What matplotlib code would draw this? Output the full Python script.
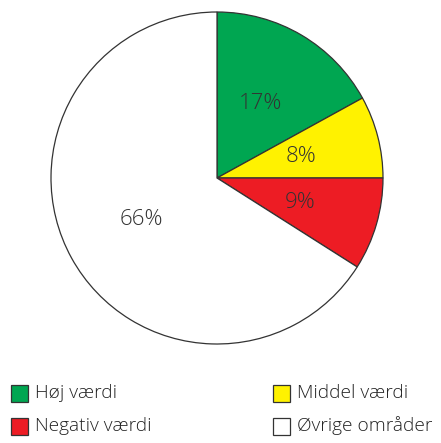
import matplotlib

matplotlib.use("Agg")
import matplotlib.pyplot as plt
from matplotlib.patches import Rectangle

labels = ["Høj værdi", "Middel værdi", "Negativ værdi", "Øvrige områder"]
shares = [17, 8, 9, 66]
colors = ["#00A651", "#FFF200", "#ED1C24", "#FFFFFF"]
legend_order = [0, 2, 1, 3]  # column-major: left column then right column

W, H = 441, 443
plt.rcParams["font.family"] = ["Open Sans", "DejaVu Sans"]

fig = plt.figure(figsize=(W / 100, H / 100), dpi=100)
ax = fig.add_axes([0, 0, 1, 1])

wedges, texts, pcts = ax.pie(
    shares,
    colors=colors,
    startangle=90,
    counterclock=False,
    center=(217, H - 178),
    radius=166,
    autopct="%d%%",
    pctdistance=0.52,
    wedgeprops=dict(edgecolor="#333333", linewidth=0.9),
    textprops=dict(fontsize=16, color="#333333", fontweight="light"),
    frame=True,
)
ax.set_xlim(0, W)
ax.set_ylim(0, H)
ax.set_aspect("equal")
ax.axis("off")

# manual legend, two columns
col_x = [11, 273]
row_y = [H - 393, H - 426]
sq = 17
for i, idx in enumerate(legend_order):
    x = col_x[i // 2]
    y = row_y[i % 2]
    ax.add_patch(Rectangle((x, y - sq / 2), sq, sq, facecolor=colors[idx],
                           edgecolor="#333333", linewidth=0.9))
    ax.text(x + sq + 7, y, labels[idx], fontsize=13.8, color="#222222",
            fontweight="light", va="center", ha="left")

fig.savefig("out.png", dpi=100)
